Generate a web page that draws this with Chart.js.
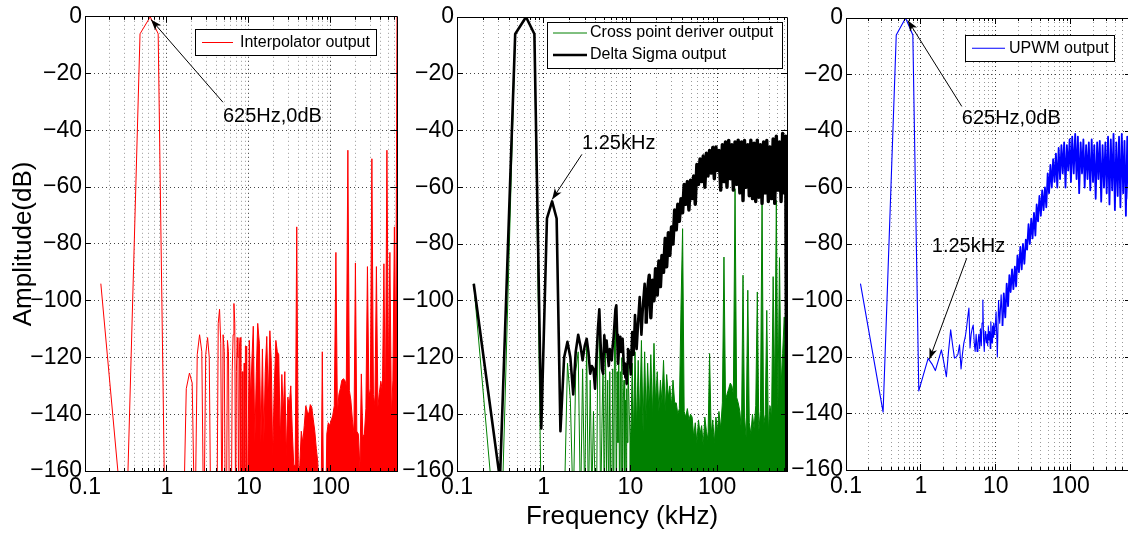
<!DOCTYPE html>
<html>
<head>
<meta charset="utf-8">
<title>Spectra: interpolator, cross point deriver / delta sigma, UPWM</title>
<script src="https://cdn.jsdelivr.net/npm/chart.js@4.4.1/dist/chart.umd.min.js"></script>
<style>
  html, body { margin: 0; padding: 0; background: #fff; overflow: hidden; }
  body { width: 1128px; height: 534px; position: relative; }
  .panel { position: absolute; top: 0; height: 534px; }
</style>
</head>
<body>
<div class="panel" style="left:0;width:400px"><canvas id="interp"></canvas></div>
<div class="panel" style="left:390px;width:400px"><canvas id="deltaSigma"></canvas></div>
<div class="panel" style="left:780px;width:354px"><canvas id="upwm"></canvas></div>
<script>
// frequency grid in kHz: FFT bins (156.25 Hz) up to ~9.4 kHz, thinned out above that
const freqKHz = [
  0.156, 0.313, 0.469, 0.625, 0.781, 0.938, 1.09, 1.25, 1.41, 1.56,
  1.72, 1.88, 2.03, 2.19, 2.34, 2.5, 2.66, 2.81, 2.97, 3.13,
  3.28, 3.44, 3.59, 3.75, 3.91, 4.06, 4.22, 4.38, 4.53, 4.69,
  4.84, 5.0, 5.16, 5.31, 5.47, 5.63, 5.78, 5.94, 6.09, 6.25,
  6.41, 6.56, 6.72, 6.88, 7.03, 7.19, 7.34, 7.5, 7.66, 7.81,
  7.97, 8.13, 8.28, 8.44, 8.59, 8.75, 8.91, 9.06, 9.22, 9.38,
  9.7, 10.1, 10.5, 10.9, 11.3, 11.8, 12.3, 12.8, 13.4, 14.0,
  14.6, 15.2, 15.8, 16.5, 17.2, 18.0, 18.7, 19.5, 20.4, 21.3,
  22.2, 23.1, 24.1, 25.2, 26.2, 27.4, 28.5, 29.8, 31.0, 32.4,
  33.8, 35.2, 36.7, 38.3, 40.0, 41.7, 43.5, 45.4, 47.3, 49.4,
  51.5, 53.7, 56.0, 58.4, 61.0, 63.6, 66.3, 69.2, 72.2, 75.3,
  78.5, 81.9, 85.4, 89.1, 92.9, 96.9, 101, 105, 110, 115,
  120, 125, 130, 136, 142, 148, 154, 161, 168, 175,
  183, 191, 199, 207, 216, 226, 235, 245, 256, 267,
  279, 291, 303, 316, 330, 344, 359, 374, 390, 407,
  425, 443, 462, 482, 503, 524, 547, 570, 595, 618,
  640
];

// amplitudes in dB (values under -160 fall below the axis)
const interpolatorDb = [
  -94, -190, -6, 0, -6, -172, -185, -190, -190, -190,
  -131, -125.5, -129, -185, -119, -112, -118, -185, -119, -113,
  -120, -185, -190, -190, -190, -185, -108, -103, -115, -185,
  -112, -118, -185, -180, -114, -118, -185, -180, -180, -125,
  -112, -101, -108, -180, -125, -113, -120, -180, -116, -113,
  -180, -180, -125, -180, -180, -122, -180, -116, -116, -180,
  -158, -114, -135, -120, -109, -150, -125, -108, -115, -150,
  -117, -150, -125, -112.6, -135, -110.6, -121, -155, -130, -114,
  -118, -119, -150, -126, -140, -125, -155, -134, -137, -130,
  -146, -158, -158, -74, -160, -158, -146, -150, -144, -137,
  -139, -140, -136.6, -137.5, -142, -146, -152, -157, -185, -185,
  -118, -185, -185, -147, -143, -144, -142, -140.6, -137, -83,
  -140, -133, -131, -128, -127.5, -128, -130, -47, -131.6, -135,
  -142, -146.7, -86.7, -146, -147, -159, -125.8, -148, -147, -138,
  -88, -134, -131, -50, -133, -136.7, -88, -137.5, -132.3, -128.4,
  -132, -87, -140, -47, -126.8, -83, -140.6, -128, -74, -122,
  0
];

const crossPointDb = [
  -94, -200, -6, 0, -6, -175, -178, -180, -178, -180,
  -175, -122, -135, -175, -125, -118, -175, -124, -170, -115,
  -175, -128, -170, -139, -165, -175, -112, -105, -175, -145,
  -122, -175, -118, -160, -128, -175, -125, -165, -175, -124,
  -180, -114, -104, -175, -125, -150, -118, -175, -125, -160,
  -120, -175, -135, -128, -170, -135, -160, -131, -150, -122,
  -140, -150, -122, -148, -118, -145, -121, -143, -114, -146,
  -118, -142, -122, -138, -119, -141, -115, -136, -125, -139,
  -128, -136, -121, -139, -126, -134, -130, -137, -128, -136,
  -136, -140, -138, -103, -74.6, -139, -141, -138, -142, -140,
  -141, -148, -143, -150, -142, -147, -144, -151, -141, -146,
  -149, -118.6, -147, -142, -150, -141, -146, -139, -145, -136,
  -84.6, -135, -133, -131, -129, -130, -133, -60.5, -134, -136,
  -139, -146, -91, -141, -148, -96.3, -143, -147, -140, -145,
  -137, -96.9, -146, -139, -64.6, -144, -140, -103.4, -146, -137,
  -141, -91.5, -134, -64.6, -138, -84.8, -130, -118.6, -105.7, -131,
  -130
];

const deltaSigmaDb = [
  -94, -163, -6, 0, -6, -145, -71, -65, -71, -146,
  -120, -114.5, -120, -133, -118, -112, -116, -121, -116, -113.4,
  -118, -125.7, -123, -124, -131, -120, -110, -103, -115, -124,
  -125.7, -112.2, -118, -114, -119, -123, -117, -119, -121, -116,
  -112.7, -108, -103, -101.6, -112, -122.2, -118, -114, -112.7, -118,
  -116, -113.4, -119, -125.7, -122, -127, -125, -129.2, -122, -117,
  -118, -126, -111, -119, -105, -117, -107, -98.7, -112, -101,
  -94, -108, -96, -91, -106, -92.8, -100, -88.7, -98, -86,
  -95, -84, -90, -78, -88, -76, -84, -74, -80, -68,
  -75, -66, -72, -64, -69, -59, -66, -58, -68, -57.5,
  -64, -56, -66, -52, -59, -50, -58, -49, -60, -48,
  -56, -47, -55, -46, -57, -45.8, -54, -47, -61, -45,
  -58, -44, -60, -43.5, -57, -45, -61, -44, -59, -43.4,
  -62, -44, -64.7, -43.5, -60, -45, -63, -43.4, -64, -44.5,
  -65, -43.4, -63.5, -45, -65.7, -44, -62, -43.5, -65, -45.8,
  -64, -43, -65.7, -42, -61, -44, -65, -41, -62, -42,
  -180
];

const upwmDb = [
  -94, -139.5, -6, 0, -6, -132, -126, -120.5, -122.5, -124.8,
  -121, -117.5, -122, -127, -118, -110.4, -116, -120.4, -120, -119,
  -115.7, -124.2, -119, -115, -113, -110, -106, -102.7, -116.8, -112,
  -110, -108.7, -115, -118, -112, -118, -115, -112, -117, -110,
  -116, -108, -99.8, -114, -118, -111, -113, -115, -112, -116,
  -109, -114, -111, -117, -107.5, -112, -115, -109, -113, -108,
  -112, -104, -120, -100, -108, -98, -109, -97.5, -106, -94,
  -102, -91, -97, -89, -96, -88, -95, -84, -90, -81,
  -89, -80, -87, -78.5, -82, -73, -80, -71, -78, -69,
  -77, -66, -72, -63, -70, -61, -68, -60, -67, -55,
  -62, -52, -60, -50, -58, -48, -60, -46, -57, -45,
  -55, -44, -60, -45, -54, -43, -58, -42, -55, -41,
  -57, -42, -62, -44, -55, -43, -60, -45, -57, -44,
  -61, -43, -58, -45, -64, -44, -57, -43.5, -65, -45,
  -60, -44, -62, -42, -66, -43, -61, -41, -68, -44,
  -63, -42, -67, -41, -62, -43.5, -70, -42, -64, -44,
  -60
];

// axis ticks
const xTickLabels = [0.1, 1, 10, 100];
const yTickValues = [-160, -140, -120, -100, -80, -60, -40, -20, 0];
const X_MIN = 0.1;
const X_MAX = 640;

const FONT = '"Liberation Sans", Arial, Helvetica, sans-serif';
Chart.defaults.font.family = FONT;
Chart.defaults.color = '#000';

const series = (db) => freqKHz.map((f, i) => ({ x: f, y: db[i] }));
// fill under the trace only where the spectrum is dense
const fillFrom = (color, kHz) => (ctx) => (ctx.p0.parsed.x >= kHz ? color : 'rgba(0,0,0,0)');
// heavier stroke in the noisy band so it reads as a solid band
const widthFrom = (thin, thick, kHz) => (ctx) => (ctx.p0.parsed.x >= kHz ? thick : thin);

// log ticks 1..9 per decade, labels only on decades
function logTicks() {
  const t = [];
  xTickLabels.forEach((d) => {
    for (let m = 1; m <= 9; m++) {
      const v = +(m * d).toPrecision(3);
      if (v <= X_MAX) t.push({ value: v });
    }
  });
  return t;
}

// box, inward tick marks, legend box and arrow notes (matlab look)
const frame = {
  id: 'frame',
  afterDraw(chart, args, opts) {
    const { ctx, chartArea: a, scales: { x, y } } = chart;
    const al = (v) => Math.round(v - 0.5) + 0.5;
    ctx.save();
    ctx.strokeStyle = '#000';
    ctx.lineWidth = 1;
    ctx.beginPath();
    x.ticks.forEach((t) => {
      const px = al(x.getPixelForValue(t.value));
      const len = xTickLabels.includes(t.value) ? 6 : 3;
      ctx.moveTo(px, a.bottom); ctx.lineTo(px, a.bottom - len);
      ctx.moveTo(px, a.top); ctx.lineTo(px, a.top + len);
    });
    y.ticks.forEach((t) => {
      const py = al(y.getPixelForValue(t.value));
      ctx.moveTo(a.left, py); ctx.lineTo(a.left + 6, py);
      ctx.moveTo(a.right, py); ctx.lineTo(a.right - 6, py);
    });
    // box
    ctx.moveTo(al(a.left), al(a.top)); ctx.lineTo(al(a.right), al(a.top));
    ctx.lineTo(al(a.right), al(a.bottom)); ctx.lineTo(al(a.left), al(a.bottom));
    ctx.closePath();
    ctx.stroke();

    // legend
    const lg = opts.legend;
    if (lg) {
      ctx.fillStyle = '#fff';
      ctx.fillRect(lg.x, lg.y, lg.w, lg.h);
      ctx.strokeStyle = '#000';
      ctx.lineWidth = 1;
      ctx.strokeRect(lg.x + 0.5, lg.y + 0.5, lg.w, lg.h);
      ctx.font = '16px ' + FONT;
      ctx.textAlign = 'left';
      ctx.textBaseline = 'middle';
      chart.data.datasets.forEach((ds, i) => {
        const ry = lg.y + lg.rows[i];
        ctx.strokeStyle = ds.borderColor;
        ctx.lineWidth = ds.borderWidth;
        ctx.beginPath();
        ctx.moveTo(lg.x + lg.line[0], ry);
        ctx.lineTo(lg.x + lg.line[1], ry);
        ctx.stroke();
        ctx.fillStyle = '#000';
        ctx.fillText(ds.label, lg.x + lg.textX, ry);
      });
    }

    // arrow notes, positioned in data units
    ctx.strokeStyle = '#000';
    ctx.fillStyle = '#000';
    ctx.lineWidth = 1;
    (opts.notes || []).forEach((n) => {
      const tx = x.getPixelForValue(n.tip[0]), ty = y.getPixelForValue(n.tip[1]);
      const sx = x.getPixelForValue(n.tail[0]), sy = y.getPixelForValue(n.tail[1]);
      ctx.beginPath();
      ctx.moveTo(sx, sy);
      ctx.lineTo(tx, ty);
      ctx.stroke();
      const ang = Math.atan2(ty - sy, tx - sx);
      const c = Math.cos(ang), s = Math.sin(ang);
      ctx.beginPath();
      ctx.moveTo(tx, ty);
      ctx.lineTo(tx - 11 * c + 4 * s, ty - 11 * s - 4 * c);
      ctx.lineTo(tx - 8 * c, ty - 8 * s);
      ctx.lineTo(tx - 11 * c - 4 * s, ty - 11 * s + 4 * c);
      ctx.closePath();
      ctx.fill();
      ctx.font = '20px ' + FONT;
      ctx.textAlign = 'left';
      ctx.textBaseline = 'middle';
      ctx.fillText(n.text, x.getPixelForValue(n.at[0]), y.getPixelForValue(n.at[1]));
    });
    ctx.restore();
  }
};

function makeChart(id, datasets, cfg) {
  return new Chart(document.getElementById(id), {
    type: 'line',
    data: { datasets },
    options: {
      responsive: true,
      maintainAspectRatio: false,
      animation: false,
      events: [],
      layout: { padding: { top: cfg.padTop, right: cfg.padRight, left: 0, bottom: 0 } },
      elements: {
        point: { radius: 0, hitRadius: 0 },
        line: { tension: 0, borderJoinStyle: 'round' }
      },
      plugins: {
        legend: { display: false },
        tooltip: { enabled: false },
        frame: { legend: cfg.legend, notes: cfg.notes }
      },
      scales: {
        x: {
          type: 'logarithmic',
          min: X_MIN,
          max: X_MAX,
          afterBuildTicks: (axis) => { axis.ticks = logTicks(); },
          afterFit: (s) => { s.height = cfg.xHeight; },
          ticks: {
            autoSkip: false,
            maxRotation: 0,
            padding: 3,
            font: { size: 23 },
            color: '#000',
            callback: (v) => (xTickLabels.includes(v) ? String(v) : '')
          },
          grid: {
            drawTicks: false,
            color: (c) => (c.tick && xTickLabels.includes(c.tick.value) ? '#333' : '#999')
          },
          border: { color: '#000', width: 1, dash: [1, 3] },
          title: cfg.xTitle
            ? { display: true, text: cfg.xTitle, font: { size: 26 }, color: '#000', padding: { top: 0, bottom: 2 } }
            : { display: false }
        },
        y: {
          min: -160,
          max: 0,
          afterBuildTicks: (axis) => { axis.ticks = yTickValues.map((v) => ({ value: v })); },
          afterFit: (s) => { s.width = cfg.yWidth; },
          ticks: {
            padding: 3,
            font: { size: 23 },
            color: '#000',
            callback: (v) => (v < 0 ? '\u2212' + Math.abs(v) : String(v))
          },
          grid: { drawTicks: false, color: '#444' },
          border: { color: '#000', width: 1, dash: [1, 3] },
          title: cfg.yTitle
            ? { display: true, text: cfg.yTitle, font: { size: 26 }, color: '#000', padding: { top: 8, bottom: 0 } }
            : { display: false }
        }
      }
    },
    plugins: [frame]
  });
}

makeChart('interp', [
  {
    label: 'Interpolator output',
    data: series(interpolatorDb),
    borderColor: '#ff0000',
    backgroundColor: '#ff0000',
    borderWidth: 1,
    fill: 'start',
    segment: { backgroundColor: fillFrom('#ff0000', 9.6) }
  }
], {
  padTop: 14, padRight: 3, yWidth: 85, xHeight: 63,
  yTitle: 'Amplitude(dB)',
  legend: { x: 195, y: 29, w: 181, h: 26, rows: [13.5], line: [7, 38], textX: 45 },
  notes: [{ text: '625Hz,0dB', tip: [0.64, -1], tail: [4.82, -30.1], at: [4.82, -35] }]
});

makeChart('deltaSigma', [
  {
    label: 'Cross point deriver output',
    data: series(crossPointDb),
    borderColor: '#008000',
    backgroundColor: '#008000',
    borderWidth: 1,
    order: 1,
    fill: 'start',
    segment: { backgroundColor: fillFrom('#008000', 9.6) }
  },
  {
    label: 'Delta Sigma output',
    data: series(deltaSigmaDb),
    borderColor: '#000000',
    borderWidth: 2.6,
    order: 0,
    fill: false,
    segment: { borderWidth: widthFrom(2.6, 3.4, 15) }
  }
], {
  padTop: 17, padRight: 3, yWidth: 67, xHeight: 63,
  xTitle: 'Frequency (kHz)',
  legend: { x: 157, y: 22, w: 235, h: 46, rows: [11, 33], line: [6, 40], textX: 43 },
  notes: [{ text: '1.25kHz', tip: [1.25, -64.3], tail: [2.76, -48.4], at: [2.77, -44.7] }]
});

makeChart('upwm', [
  {
    label: 'UPWM output',
    data: series(upwmDb),
    borderColor: '#0000ff',
    borderWidth: 1.1,
    fill: false,
    segment: { borderWidth: widthFrom(1.1, 1.8, 12) }
  }
], {
  padTop: 18, padRight: 3, yWidth: 66, xHeight: 64,
  legend: { x: 185, y: 35, w: 149, h: 26, rows: [13.3], line: [7, 40], textX: 44 },
  notes: [
    { text: '625Hz,0dB', tip: [0.67, -0.85], tail: [3.52, -31.3], at: [3.52, -35.4] },
    { text: '1.25kHz', tip: [1.3, -120.8], tail: [4.1, -85], at: [1.4, -80.8] }
  ]
});
</script>
</body>
</html>
